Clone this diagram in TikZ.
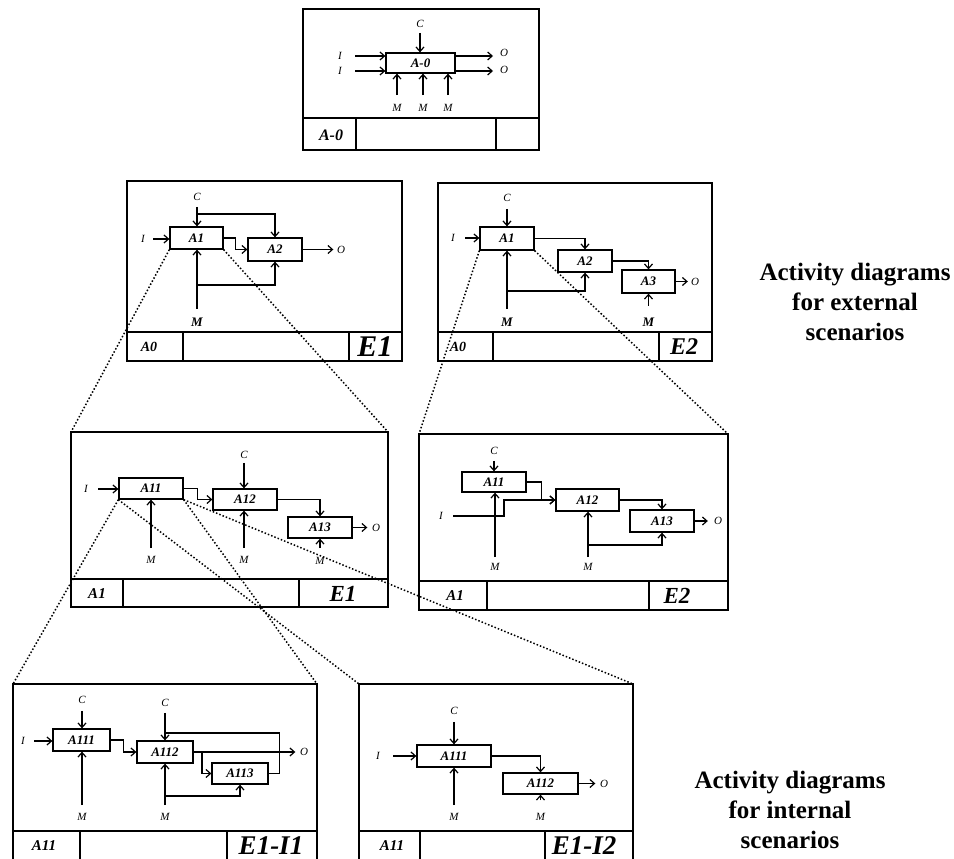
\documentclass[tikz,border=0pt]{standalone}
\usepackage{fontspec}
\setmainfont{Liberation Serif}
\usetikzlibrary{arrows.meta}

\begin{document}
\begin{tikzpicture}[
  x=1pt, y=-1pt,
  >={Straight Barb[length=4.5pt, width=8pt]},
  every node/.style={text=black},
  frame/.style={line width=2.8pt},
  act/.style={draw, line width=1.3pt, inner sep=0pt, minimum height=22pt,
    font=\fontsize{13}{13}\selectfont\bfseries\itshape},
  lbl/.style={inner sep=0pt, font=\fontsize{11}{11}\selectfont\itshape},
  lblb/.style={inner sep=0pt, font=\fontsize{13}{13}\selectfont\bfseries\itshape},
  ttl/.style={inner sep=0pt, font=\fontsize{15}{15}\selectfont\bfseries\itshape},
  flow/.style={line width=1.2pt},
  zoomln/.style={dotted, line width=1.5pt},
  note/.style={align=center, font=\fontsize{25}{30}\selectfont\bfseries},
]

\useasboundingbox (0,0) rectangle (954,859);

% Context diagram A-0
\draw[frame] (303,9) rectangle (539,150);
\draw[frame] (303,118) -- (539,118) (356,118) -- (356,150) (496,118) -- (496,150);
\node[act, minimum width=69pt, minimum height=20pt] (a0) at (420.5,63) {A-0};
\node[lbl] (a0c) at (420,24) {C};
\node[lbl] (a0i1) at (340,56) {I};
\node[lbl] (a0i2) at (340,71) {I};
\node[lbl] (a0o1) at (504,53) {O};
\node[lbl] (a0o2) at (504,70) {O};
\node[lbl] (a0m1) at (397,108) {M};
\node[lbl] (a0m2) at (423,108) {M};
\node[lbl] (a0m3) at (448,108) {M};
\draw[flow, ->, shorten <=5pt] (a0c) -- (a0c |- a0.north);
\draw[flow, ->, shorten <=13pt] (a0i1) -- (a0i1 -| a0.west);
\draw[flow, ->, shorten <=13pt] (a0i2) -- (a0i2 -| a0.west);
\draw[flow, ->, shorten >=11pt] (a0.east |- a0i1) -- (a0o1 |- a0i1);
\draw[flow, ->, shorten >=11pt] (a0.east |- a0i2) -- (a0o2 |- a0i2);
\draw[flow, ->, shorten <=9pt] (a0m1) -- (a0m1 |- a0.south);
\draw[flow, ->, shorten <=9pt] (a0m2) -- (a0m2 |- a0.south);
\draw[flow, ->, shorten <=9pt] (a0m3) -- (a0m3 |- a0.south);
\node[ttl, font=\fontsize{16}{16}\selectfont\bfseries\itshape] (a0t) at (331,135) {A-0};

% External scenario E1
\draw[frame] (127,181) coordinate (f1nw) rectangle (402,361);
\coordinate (f1ne) at (402,181);
\draw[frame] (127,332) -- (402,332) (183,332) -- (183,361) (349,332) -- (349,361);
\node[act, minimum width=53pt] (e1a1) at (196.5,238) {A1};
\node[act, minimum width=54pt, minimum height=23pt] (e1a2) at (275,249.5) {A2};
\node[lbl] (e1c) at (197,197) {C};
\node[lbl] (e1i) at (143,239) {I};
\node[lbl] (e1o) at (341,249.5) {O};
\node[lblb] (e1m) at (197,322) {M};
\coordinate (e1cb) at (197,214);
\coordinate (e1mb) at (197,285);
\draw[flow, ->, shorten <=6pt] (e1c) -- (e1c |- e1a1.north);
\draw[flow, ->] (e1cb) -| (e1a2.north);
\draw[flow, ->, shorten <=8pt] (e1i) -- (e1i -| e1a1.west);
\draw[flow, ->] (e1a1.east) -- ++(12,0) |- (e1a2.west);
\draw[flow, ->, shorten >=3.5pt] (e1a2.east) -- (e1o);
\draw[flow, ->, shorten <=9pt] (e1m) -- (e1m |- e1a1.south);
\draw[flow, ->] (e1mb) -| (e1a2.south);
\node[ttl, font=\fontsize{14}{14}\selectfont\bfseries\itshape] (e1t) at (149,347) {A0};
\node[ttl, font=\fontsize{30}{30}\selectfont\bfseries\itshape] (e1s) at (375,347) {E1};

% External scenario E2
\draw[frame] (438,183) coordinate (f2nw) rectangle (712,361);
\coordinate (f2ne) at (712,183);
\draw[frame] (438,332) -- (712,332) (493,332) -- (493,361) (659,332) -- (659,361);
\node[act, minimum width=54pt, minimum height=23pt] (e2a1) at (507,238.5) {A1};
\node[act, minimum width=54pt] (e2a2) at (585,261) {A2};
\node[act, minimum width=53pt, minimum height=23pt] (e2a3) at (648.5,281.5) {A3};
\node[lbl] (e2c) at (507,198) {C};
\node[lbl] (e2i) at (453,238) {I};
\node[lbl] (e2o) at (695,281.5) {O};
\node[lblb] (e2m1) at (507,322) {M};
\node[lblb] (e2m2) at (648.5,322) {M};
\coordinate (e2mb) at (507,291);
\draw[flow, ->, shorten <=7pt] (e2c) -- (e2c |- e2a1.north);
\draw[flow, ->, shorten <=10pt] (e2i) -- (e2i -| e2a1.west);
\draw[flow, ->] (e2a1.east) -| (e2a2.north);
\draw[flow, ->] (e2a2.east) -| (e2a3.north);
\draw[flow, ->, shorten >=3pt] (e2a3.east) -- (e2o);
\draw[flow, ->, shorten <=9pt] (e2m1) -- (e2m1 |- e2a1.south);
\draw[flow, ->] (e2mb) -| (e2a2.south);
\draw[flow, ->, shorten <=12pt] (e2m2) -- (e2m2 |- e2a3.south);
\node[ttl, font=\fontsize{14}{14}\selectfont\bfseries\itshape] (e2t) at (458,347) {A0};
\node[ttl, font=\fontsize{24}{24}\selectfont\bfseries\itshape] (e2s) at (684,347) {E2};

% Decomposition of A1 for E1
\draw[frame] (71,432) coordinate (f3nw) rectangle (388,607);
\coordinate (f3ne) at (388,432);
\draw[frame] (71,579) -- (388,579) (123,579) -- (123,607) (299,579) -- (299,607);
\node[act, minimum width=64pt, minimum height=21pt] (m1a11) at (151,488.5) {A11};
\node[act, minimum width=64pt, minimum height=21pt] (m1a12) at (245,499.5) {A12};
\node[act, minimum width=64pt, minimum height=21pt] (m1a13) at (320,527.5) {A13};
\node[lbl] (m1i) at (86,489) {I};
\node[lbl] (m1c) at (244,455) {C};
\node[lbl] (m1o) at (376,527.5) {O};
\node[lbl] (m1m1) at (151,560) {M};
\node[lbl] (m1m2) at (244,560) {M};
\node[lbl] (m1m3) at (320,561) {M};
\draw[flow, ->, shorten <=10pt] (m1i) -- (m1i -| m1a11.west);
\draw[flow, ->] (m1a11.east) -- ++(14,0) |- (m1a12.west);
\draw[flow, ->, shorten <=4pt] (m1c) -- (m1c |- m1a12.north);
\draw[flow, ->] (m1a12.east) -| (m1a13.north);
\draw[flow, ->, shorten >=4.5pt] (m1a13.east) -- (m1o);
\draw[flow, ->, shorten <=8pt] (m1m1) -- (m1m1 |- m1a11.south);
\draw[flow, ->, shorten <=8pt] (m1m2) -- (m1m2 |- m1a12.south);
\draw[flow, ->, shorten <=9pt] (m1m3) -- (m1m3 |- m1a13.south);
\node[ttl] (m1t) at (97,594) {A1};
\node[ttl, font=\fontsize{23}{23}\selectfont\bfseries\itshape] (m1s) at (343,594) {E1};

% Decomposition of A1 for E2
\draw[frame] (419,434) coordinate (f4nw) rectangle (728,610);
\coordinate (f4ne) at (728,434);
\draw[frame] (419,581) -- (728,581) (487,581) -- (487,610) (649,581) -- (649,610);
\node[act, minimum width=64pt, minimum height=20pt] (m2a11) at (494,482) {A11};
\node[act, minimum width=63pt] (m2a12) at (587.5,500) {A12};
\node[act, minimum width=64pt] (m2a13) at (662,521) {A13};
\node[lbl] (m2c) at (494,451) {C};
\node[lbl] (m2i) at (441,516) {I};
\node[lbl] (m2o) at (718,521) {O};
\node[lbl] (m2m1) at (495,567) {M};
\node[lbl] (m2m2) at (588,567) {M};
\coordinate (m2ij) at (504,516);
\coordinate (m2mb) at (588,545);
\draw[flow, ->, shorten <=6pt] (m2c) -- (m2c |- m2a11.north);
\draw[flow, ->] (m2a11.east) -- ++(15,0) |- (m2a12.west);
\draw[flow, ->, shorten <=10pt] (m2i) -- (m2ij) |- (m2a12.west);
\draw[flow, ->] (m2a12.east) -| (m2a13.north);
\draw[flow, ->, shorten >=6pt] (m2a13.east) -- (m2o);
\draw[flow, ->, shorten <=6pt] (m2m1) -- (m2m1 |- m2a11.south);
\draw[flow, ->, shorten <=6pt] (m2m2) -- (m2m2 |- m2a12.south);
\draw[flow, ->] (m2mb) -| (m2a13.south);
\node[ttl] (m2t) at (455,596) {A1};
\node[ttl, font=\fontsize{23}{23}\selectfont\bfseries\itshape] (m2s) at (677,596) {E2};

% Internal scenario E1-I1
\draw[frame] (13,866) -- (13,684) coordinate (f5nw) -- (317,684) coordinate (f5ne) -- (317,866);
\draw[frame] (13,831) -- (317,831) (80,831) -- (80,866) (227,831) -- (227,866);
\node[act, minimum width=57pt] (b1a111) at (81.5,740) {A111};
\node[act, minimum width=56pt] (b1a112) at (165,752) {A112};
\node[act, minimum width=56pt, minimum height=21pt] (b1a113) at (240,773.5) {A113};
\node[lbl] (b1c1) at (82,700) {C};
\node[lbl] (b1c2) at (165,703) {C};
\node[lbl] (b1i) at (23,741) {I};
\node[lbl] (b1o) at (304,752) {O};
\node[lbl] (b1m1) at (82,817) {M};
\node[lbl] (b1m2) at (165,817) {M};
\coordinate (b1fb) at (165,733);
\coordinate (b1ob) at (202,752);
\coordinate (b1mb) at (165,796);
\draw[flow, ->, shorten <=7pt] (b1c1) -- (b1c1 |- b1a111.north);
\draw[flow, ->, shorten <=9pt] (b1i) -- (b1i -| b1a111.west);
\draw[flow, ->] (b1a111.east) -- ++(13,0) |- (b1a112.west);
\draw[flow, ->, shorten <=6pt] (b1c2) -- (b1c2 |- b1a112.north);
\draw[flow] (b1a113.east) -- ++(11,0) |- (b1fb);
\draw[flow, ->, shorten >=4.5pt] (b1a112.east) -- (b1o);
\draw[flow, ->] (b1ob) |- (b1a113.west);
\draw[flow, ->, shorten <=8pt] (b1m1) -- (b1m1 |- b1a111.south);
\draw[flow, ->, shorten <=8pt] (b1m2) -- (b1m2 |- b1a112.south);
\draw[flow, ->] (b1mb) -| (b1a113.south);
\node[ttl] (b1t) at (44,846) {A11};
\node[ttl, font=\fontsize{27}{27}\selectfont\bfseries\itshape] (b1s) at (271,846) {E1-I1};

% Internal scenario E1-I2
\draw[frame] (359,866) -- (359,684) coordinate (f6nw) -- (633,684) coordinate (f6ne) -- (633,866);
\draw[frame] (359,831) -- (633,831) (420,831) -- (420,866) (545,831) -- (545,866);
\node[act, minimum width=74pt] (b2a111) at (454,756) {A111};
\node[act, minimum width=75pt, minimum height=21pt] (b2a112) at (540.5,783.5) {A112};
\node[lbl] (b2c) at (454,711) {C};
\node[lbl] (b2i) at (378,756) {I};
\node[lbl] (b2o) at (604,783.5) {O};
\node[lbl] (b2m1) at (454,817) {M};
\node[lbl] (b2m2) at (540.5,817) {M};
\draw[flow, ->, shorten <=7pt] (b2c) -- (b2c |- b2a111.north);
\draw[flow, ->, shorten <=13pt] (b2i) -- (b2i -| b2a111.west);
\draw[flow, ->] (b2a111.east) -| (b2a112.north);
\draw[flow, ->, shorten >=4.5pt] (b2a112.east) -- (b2o);
\draw[flow, ->, shorten <=8pt] (b2m1) -- (b2m1 |- b2a111.south);
\draw[flow, ->, shorten <=13pt] (b2m2) -- (b2m2 |- b2a112.south);
\node[ttl] (b2t) at (392,846) {A11};
\node[ttl, font=\fontsize{27}{27}\selectfont\bfseries\itshape] (b2s) at (584,846) {E1-I2};

% Zoom lines
\draw[zoomln] (e1a1.south west) -- (f3nw);
\draw[zoomln] (e1a1.south east) -- (f3ne);
\draw[zoomln] (e2a1.south west) -- (f4nw);
\draw[zoomln] (e2a1.south east) -- (f4ne);
\draw[zoomln] (m1a11.south west) -- (f5nw);
\draw[zoomln] (m1a11.south west) -- (f6nw);
\draw[zoomln] (m1a11.south east) -- (f5ne);
\draw[zoomln] (m1a11.south east) -- (f6ne);

% Side notes
\node[note] (ext) at (855,302) {Activity diagrams\\for external\\scenarios};
\node[note] (int) at (790,810) {Activity diagrams\\for internal\\scenarios};

\end{tikzpicture}
\end{document}
